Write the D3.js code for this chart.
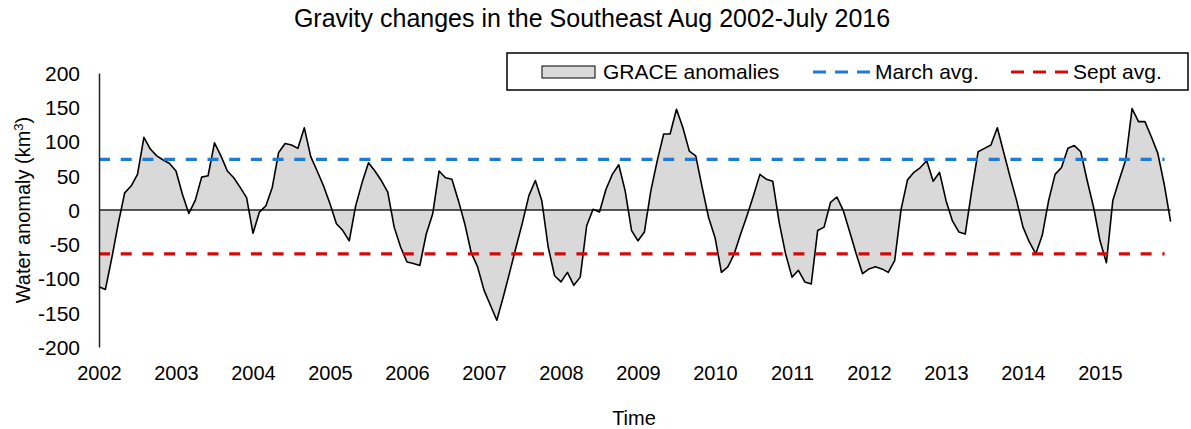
<!DOCTYPE html>
<html>
<head>
<title>Gravity changes in the Southeast</title>
<meta charset="utf-8" />
<style>
  body { margin: 0; background: #fff; }
  svg text { font-family: "Liberation Sans", Arial, sans-serif; fill: #000; }
</style>
</head>
<body>
<div id="chart"></div>
<script src="https://d3js.org/d3.v7.min.js" charset="utf-8"></script>
<script type="text/javascript">
// monthly GRACE water anomalies (km3), Aug 2002 - July 2016
var anomalies = [
  -112, -116, -70, -20, 25, 35, 52, 106, 89, 79, 73, 68,
  57, 23, -5, 14, 48, 50, 98, 79, 57, 47, 33, 18,
  -34, -3, 6, 33, 84, 97, 95, 90, 120, 78, 57, 35,
  9, -20, -30, -45, 6, 40, 69, 57, 43, 26, -25, -54,
  -76, -78, -81, -35, -6, 57, 47, 45, 14, -20, -62, -83,
  -117, -139, -161, -127, -91, -54, -18, 21, 43, 14, -54, -96,
  -105, -91, -110, -98, -23, 1, -3, 30, 52, 66, 28, -30,
  -45, -32, 28, 72, 111, 111, 147, 120, 86, 79, 33, -11,
  -40, -91, -83, -64, -35, -8, 21, 52, 45, 42, -18, -64,
  -98, -88, -105, -108, -30, -25, 11, 19, -1, -32, -64, -93,
  -86, -83, -86, -91, -74, 1, 44, 55, 62, 72, 42, 55,
  14, -16, -32, -35, 28, 85, 90, 95, 120, 84, 48, 14,
  -25, -47, -64, -37, 14, 52, 62, 90, 94, 85, 43, 4,
  -45, -77, 14, 44, 73, 148, 129, 129, 107, 83, 38, -17
];
var years = [2002, 2003, 2004, 2005, 2006, 2007, 2008, 2009, 2010, 2011, 2012, 2013, 2014, 2015];
var yTicks = [-200, -150, -100, -50, 0, 50, 100, 150, 200];
var marchAvg = 74;
var septAvg = -64;
var legendItems = ["GRACE anomalies", "March avg.", "Sept avg."];

var width = 1191, height = 429;
var svg = d3.select("#chart").append("svg")
  .attr("width", width)
  .attr("height", height);

// scales: one step per month, year labels every 12 months
var x = d3.scaleLinear().domain([0, anomalies.length - 1]).range([99, 99 + 77 / 12 * (anomalies.length - 1)]);
var y = d3.scaleLinear().domain([-200, 200]).range([347, 73]);

var blue = "#1f7ad3";
var red = "#d20a0a";

// title
svg.append("text")
  .attr("x", 592).attr("y", 27)
  .attr("text-anchor", "middle")
  .style("font-size", "25px")
  .text("Gravity changes in the Southeast Aug 2002-July 2016");

// shaded area between series and zero
var area = d3.area()
  .x(function(d, i) { return x(i); })
  .y0(y(0))
  .y1(function(d) { return y(d); });
svg.append("path")
  .datum(anomalies)
  .attr("d", area)
  .attr("fill", "#d9d9d9");

// zero line
svg.append("line")
  .attr("x1", x(0)).attr("x2", x(anomalies.length - 1))
  .attr("y1", y(0)).attr("y2", y(0))
  .attr("stroke", "#222").attr("stroke-width", 1.5);

// series outline
var line = d3.line()
  .x(function(d, i) { return x(i); })
  .y(function(d) { return y(d); });
svg.append("path")
  .datum(anomalies)
  .attr("d", line)
  .attr("fill", "none")
  .attr("stroke", "#000")
  .attr("stroke-width", 1.6)
  .attr("stroke-linejoin", "round");

// average lines
[[marchAvg, blue], [septAvg, red]].forEach(function(a) {
  svg.append("line")
    .attr("x1", x(0)).attr("x2", x(anomalies.length - 1) - 6)
    .attr("y1", y(a[0])).attr("y2", y(a[0]))
    .attr("stroke", a[1]).attr("stroke-width", 3.2)
    .attr("stroke-dasharray", "11,10.7");
});

// y axis (plain hyphen for negatives, like the original)
var yAxis = d3.axisLeft(y).tickValues(yTicks).tickSize(0).tickPadding(19)
  .tickFormat(function(d) { return String(d); });
var gy = svg.append("g").attr("transform", "translate(" + x(0) + ",0)").call(yAxis);
gy.select(".domain").attr("stroke", "#222").attr("stroke-width", 1.5);
gy.selectAll("text").style("font-size", "21px").attr("dy", "0.35em");

// x axis labels (no line, sits below the plot)
var xAxis = d3.axisBottom(x)
  .tickValues(years.map(function(d, i) { return i * 12; }))
  .tickFormat(function(d) { return years[d / 12]; })
  .tickSize(0).tickPadding(0);
var gx = svg.append("g").attr("transform", "translate(0,380)").call(xAxis);
gx.select(".domain").remove();
gx.selectAll("text").style("font-size", "20px").attr("dy", "0");

// axis titles
svg.append("text")
  .attr("transform", "translate(30," + y(0) + ") rotate(-90)")
  .attr("text-anchor", "middle")
  .style("font-size", "20px")
  .html("Water anomaly (km<tspan dy='-7' style='font-size:13px'>3</tspan><tspan dy='7'>)</tspan>");

svg.append("text")
  .attr("x", 634).attr("y", 425)
  .attr("text-anchor", "middle")
  .style("font-size", "20px")
  .text("Time");

// legend
var lg = svg.append("g");
lg.append("rect")
  .attr("x", 507).attr("y", 53).attr("width", 681).attr("height", 37)
  .attr("fill", "#fff").attr("stroke", "#000").attr("stroke-width", 1.5);
lg.append("rect")
  .attr("x", 542).attr("y", 66).attr("width", 53).attr("height", 12)
  .attr("fill", "#d9d9d9").attr("stroke", "#000").attr("stroke-width", 1);
lg.append("text").attr("x", 603).attr("y", 79).style("font-size", "21px").text(legendItems[0]);
lg.append("line")
  .attr("x1", 813).attr("x2", 870).attr("y1", 72).attr("y2", 72)
  .attr("stroke", blue).attr("stroke-width", 3.2).attr("stroke-dasharray", "13,9");
lg.append("text").attr("x", 875).attr("y", 79).style("font-size", "21px").text(legendItems[1]);
lg.append("line")
  .attr("x1", 1011).attr("x2", 1068).attr("y1", 72).attr("y2", 72)
  .attr("stroke", red).attr("stroke-width", 3.2).attr("stroke-dasharray", "13,9");
lg.append("text").attr("x", 1073).attr("y", 79).style("font-size", "21px").text(legendItems[2]);
</script>
</body>
</html>
